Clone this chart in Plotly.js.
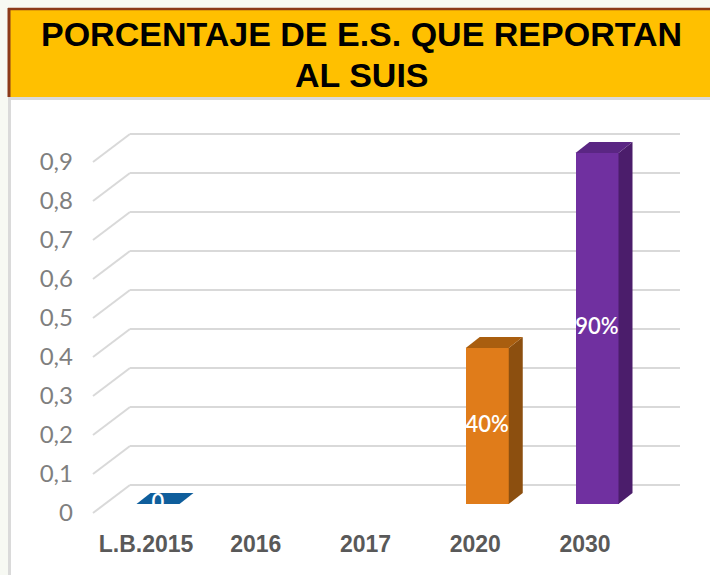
<!DOCTYPE html>
<html>
<head>
<meta charset="utf-8">
<script src="https://cdn.plot.ly/plotly-3.0.1.min.js"></script>
<style>
  html, body { margin: 0; padding: 0; background: #ffffff; }
  #chart { width: 710px; height: 575px; }
</style>
</head>
<body>
<div id="chart"></div>
<script>
// ---- data ----
const categories = ['L.B.2015', '2016', '2017', '2020', '2030'];
const values = [0, null, null, 0.4, 0.9];
const frontColors = ['#0F5E9C', '#0F5E9C', '#0F5E9C', '#E07C1A', '#7030A0'];
const sideColors  = ['#0B4A7C', '#0B4A7C', '#0B4A7C', '#8C4F0F', '#4B1D6B'];
const topColors   = ['#0F5E9C', '#0F5E9C', '#0F5E9C', '#A95E0F', '#5A2683'];
const yTickVals = [0, 0.1, 0.2, 0.3, 0.4, 0.5, 0.6, 0.7, 0.8, 0.9];
const titleLines = ['PORCENTAJE DE E.S. QUE REPORTAN', 'AL SUIS'];

// ---- geometry (pixels -> paper) ----
const W = 710, H = 575;
const fx = p => p / W;
const fy = p => 1 - p / H;

const PXU = 390;           // px per unit on y
const BASE = 504;          // px of bar baseline
const DOM_TOP = 110, DOM_BOT = 530;
const yRange = [(BASE - DOM_BOT) / PXU, (BASE - DOM_TOP) / PXU];
const XL = 130, XR = 680, STEP = 109.75, C0 = 158;
const xRange = [-(C0 - XL) / STEP, -(C0 - XL) / STEP + (XR - XL) / STEP];

const BW = 43 / STEP;      // bar width in x units
const DX = 14 / STEP;      // depth offset x
const DY = 11 / PXU;       // depth offset y
const BACK = 19 / PXU;     // back wall offset
const FRONT = 9 / PXU;     // front edge offset

const idx = categories.map((c, i) => i);
const barX = [], barY = [], barC = [];
idx.forEach(i => { if (values[i] !== null) { barX.push(i); barY.push(values[i]); barC.push(frontColors[i]); } });

const traces = [];
traces.push({
  type: 'bar', x: barX, y: barY, width: BW,
  marker: { color: barC, line: { width: 0 } },
  hoverinfo: 'skip', showlegend: false
});
barX.forEach((i, k) => {
  const v = barY[k], l = i - BW / 2, r = i + BW / 2;
  if (v > 0) {
    traces.push({
      type: 'scatter', mode: 'lines', fill: 'toself',
      x: [r, r + DX, r + DX, r, r], y: [0, DY, v + DY, v, 0],
      fillcolor: sideColors[i], line: { width: 0, color: sideColors[i] },
      hoverinfo: 'skip', showlegend: false
    });
  }
  traces.push({
    type: 'scatter', mode: 'lines', fill: 'toself',
    x: [l, l + DX, r + DX, r, l], y: [v, v + DY, v + DY, v, v],
    fillcolor: topColors[i], line: { width: 0, color: topColors[i] },
    hoverinfo: 'skip', showlegend: false
  });
});
traces.push({
  type: 'scatter', mode: 'text',
  x: barX, y: barY.map(v => v / 2),
  text: barY.map(v => v === 0 ? '0' : Math.round(v * 100) + '%'),
  textposition: 'middle center',
  textfont: { family: 'Lato, "Open Sans", sans-serif', size: 22, color: '#ffffff', weight: 600 },
  hoverinfo: 'skip', showlegend: false, cliponaxis: false
});

// ---- shapes ----
const shapes = [];
// backgrounds / frame
shapes.push({ type: 'rect', xref: 'paper', yref: 'paper', x0: 0, x1: fx(8), y0: 0, y1: 1, fillcolor: '#F7F9F3', line: { width: 0 }, layer: 'below' });
shapes.push({ type: 'rect', xref: 'paper', yref: 'paper', x0: 0, x1: 1, y0: fy(8), y1: 1, fillcolor: '#F7F9F3', line: { width: 0 }, layer: 'below' });
shapes.push({ type: 'rect', xref: 'paper', yref: 'paper', x0: fx(8), x1: 1, y0: fy(97), y1: fy(8), fillcolor: '#FFC000', line: { width: 0 }, layer: 'below' });
shapes.push({ type: 'line', xref: 'paper', yref: 'paper', x0: fx(8), x1: 1, y0: fy(9), y1: fy(9), line: { color: '#8B3A1A', width: 2.5 }, layer: 'below' });
shapes.push({ type: 'line', xref: 'paper', yref: 'paper', x0: fx(9), x1: fx(9), y0: fy(97), y1: fy(8), line: { color: '#8B3A1A', width: 3 }, layer: 'below' });
shapes.push({ type: 'line', xref: 'paper', yref: 'paper', x0: fx(8), x1: 1, y0: fy(98.5), y1: fy(98.5), line: { color: '#DADADA', width: 3 }, layer: 'below' });
shapes.push({ type: 'line', xref: 'paper', yref: 'paper', x0: fx(9.5), x1: fx(9.5), y0: 0, y1: fy(97), line: { color: '#DADADA', width: 3 }, layer: 'below' });
// gridlines (back wall + floor diagonals)
yTickVals.forEach(v => {
  shapes.push({ type: 'line', xref: 'paper', yref: 'y', x0: fx(XL), x1: fx(XR), y0: v + BACK, y1: v + BACK, line: { color: '#D9D9D9', width: 2 }, layer: 'below' });
  shapes.push({ type: 'line', xref: 'paper', yref: 'y', x0: fx(93), x1: fx(XL), y0: v - FRONT, y1: v + BACK, line: { color: '#D9D9D9', width: 2 }, layer: 'below' });
});

const annotations = [
  { xref: 'paper', yref: 'paper', x: fx(361), y: fy(34), xanchor: 'center', yanchor: 'middle', showarrow: false,
    text: '<b>' + titleLines[0] + '</b>', font: { family: '"Liberation Sans", Arial, sans-serif', size: 34, color: '#000000' } },
  { xref: 'paper', yref: 'paper', x: fx(362), y: fy(75), xanchor: 'center', yanchor: 'middle', showarrow: false,
    text: '<b>' + titleLines[1] + '</b>', font: { family: '"Liberation Sans", Arial, sans-serif', size: 34, color: '#000000' } }
];

const layout = {
  width: W, height: H,
  margin: { l: 0, r: 0, t: 0, b: 0 },
  paper_bgcolor: '#ffffff', plot_bgcolor: 'rgba(0,0,0,0)',
  separators: ',.',
  showlegend: false,
  bargap: 0,
  xaxis: {
    domain: [fx(XL), fx(XR)], range: xRange,
    tickvals: idx, ticktext: categories,
    showgrid: false, zeroline: false, showline: false, ticks: '',
    ticklabelshift: -12, ticklabelstandoff: -2,
    tickfont: { family: '"Liberation Sans", Arial, sans-serif', size: 23, color: '#595959', weight: 'bold' },
    fixedrange: true
  },
  yaxis: {
    domain: [fy(DOM_BOT), fy(DOM_TOP)], range: yRange,
    tickvals: yTickVals,
    showgrid: false, zeroline: false, showline: false, ticks: '',
    ticklabelshift: 9, ticklabelstandoff: 56,
    tickfont: { family: 'Lato, "Open Sans", sans-serif', size: 24, color: '#7F7F7F' },
    fixedrange: true
  },
  shapes: shapes,
  annotations: annotations
};

Plotly.newPlot('chart', traces, layout, { staticPlot: true, displayModeBar: false });
</script>
</body>
</html>
